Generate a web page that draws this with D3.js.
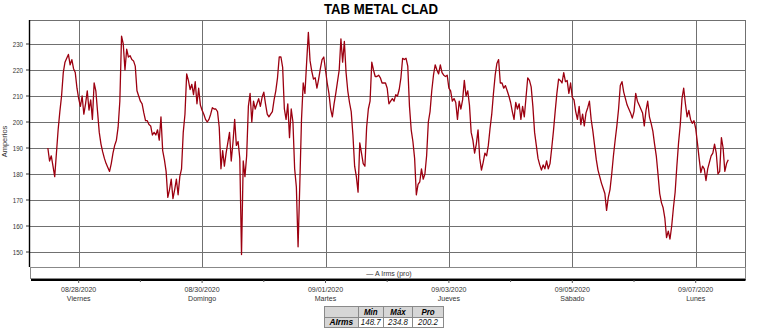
<!DOCTYPE html>
<html><head><meta charset="utf-8">
<script src="https://cdn.jsdelivr.net/npm/d3@7"></script>
<style>body{margin:0;background:#fff}svg{display:block}</style>
</head><body>
<script>
const chartTitle = "TAB METAL CLAD";
const yAxisTitle = "Amperios";
const legendLabel = "— A Irms (pro)";
const yTicks = [150,160,170,180,190,200,210,220,230];
const dayTicks = ["2020-08-28","2020-08-29","2020-08-30","2020-08-31","2020-09-01","2020-09-02","2020-09-03","2020-09-04","2020-09-05","2020-09-06","2020-09-07"];
const labeledDays = ["2020-08-28","2020-08-30","2020-09-01","2020-09-03","2020-09-05","2020-09-07"];
const dateLabels = ["08/28/2020","08/30/2020","09/01/2020","09/03/2020","09/05/2020","09/07/2020"];
const dayNames = ["Viernes","Domingo","Martes","Jueves","Sábado","Lunes"];
const seriesStart = "2020-08-27T12:00:00Z";
const stepMinutes = 40;
const amps = [
190,185,187,183,179,188,197,204,210,219,
223,224.5,226,222,224,220.5,219,213,209,206,
210,203,207,212,204.6,208.5,201,215,212,204,
196,191.5,188.5,186,184,182.5,181,184,188,191,
193,198,208,233,230,220,228,225,225.5,224,
223.5,221.5,212,210,208,207,203.5,200.5,200.5,199,
198.5,195,196,195,197,193,202,189,185.5,181,
171,174,178,170.5,174,178,172,179,182,196,
203,218.5,216,212.5,214.5,210.5,215.5,207,213,206.5,
204.5,203,201,200,201,203,205.5,205,205,204,
198,182,189,183,188,192,196,185,192,201,
191,192.5,186,149,185,179,187,206,211,200,
208,205,207,209,206,209.5,211.5,207,203,202,
203,204,208.5,212,217,225,225,221,205,201,
207,194,205,200,182,175,152,176,201,215,
211,223,234.5,223.5,219.5,216.5,217,213,216.5,220.5,
224,225,220,215,211,205,202,207,211,215.5,
220,232,223,231,219,212,207.5,204,195,183,
179,173,192,188,184,183,198,205,208,223,
220,217.5,217.5,218,217,215,215,215,213,207,
208,209,208,210.5,210,212.5,217,224.5,224,224.5,
221.5,206,197,192.5,186,172,176,177,182,178,
180,187,200,204,212,218,222,220,218.5,222,
219,218,217.5,218,213,212,208,209,207.5,201,
208,205,208.5,216,210,212,206.5,196,193,188,
191.5,197,186,181.5,184.5,188,187,191,197.5,203,
211,218,222.5,224,215,215,213,214,212,210,
207.5,204,201,207.5,205,207,201,206,202,209.5,
217,216,213.5,206,196,191,186,183.5,181.5,183.5,
182,185,182,184,190,196.5,204,211,216.5,216,
215,219,215.5,216,211,215,209.5,208.5,204,201,
206,199,203,198.5,203.5,205.5,208,201,196.5,191,
185.5,181.5,179,176.5,174.5,172.5,166,171,174,180,
187,193,198.5,205,214,215.5,211.5,209,206.5,205,
203.5,201.5,204,211,208,206.5,205,203.5,198.5,204.5,
208,202,199.5,196.5,191.5,187,180,172.5,169,167,
163,155.5,158,155,160,167,173,183,192,199,
209,213,207,202,204.5,201,199.5,200.5,197.5,192,
186,180.5,183,182,177.5,182,184.5,187,188,191.5,
188,180,181,194,190,181,184,185.5
];
const statHeaders = ["Min","Máx","Pro"];
const statRowLabel = "AIrms";
const statValues = ["148.7","234.8","200.2"];

(function () {
const W = 762, H = 329;
const svg = d3.select("body").append("svg").attr("width", W).attr("height", H);
const FONT = "'Liberation Sans', Arial, sans-serif";
const SX = 0.88;
function txt(px, py, s, o = {}) {
  return svg.append("text")
    .attr("transform", `translate(${px},${py}) scale(${SX},1)${o.rot ? " rotate(" + o.rot + ")" : ""}`)
    .attr("text-anchor", o.anchor || "middle")
    .attr("font-family", FONT)
    .attr("font-size", o.size || 8)
    .attr("font-weight", o.weight || "normal")
    .attr("font-style", o.style || "normal")
    .attr("fill", o.fill || "#222")
    .text(s);
}

const parse = d3.utcParse("%Y-%m-%d");
const pLeft = 29.5, pRight = 745.5, pTop = 20, plotBottom = 267, axisY = 280;
const x = d3.scaleUtc().domain([parse("2020-08-28"), parse("2020-09-07")]).range([78.7, 695.7]);
const y = d3.scaleLinear().domain([150, 230]).range([252, 44]);

const t0 = new Date(seriesStart).getTime();
const data = amps.map((v, i) => ({ t: new Date(t0 + i * stepMinutes * 60000), v }));

// title
txt(381, 14, chartTitle, { size: 15, weight: "bold", fill: "#000" });

// grid
const grid = svg.append("g").attr("stroke", "#707070").attr("stroke-width", 1).attr("shape-rendering", "crispEdges");
yTicks.forEach(v => grid.append("line").attr("x1", pLeft).attr("x2", pRight).attr("y1", Math.round(y(v)) + 0.5).attr("y2", Math.round(y(v)) + 0.5));
labeledDays.forEach(d => { const xx = Math.round(x(parse(d))) + 0.5; grid.append("line").attr("x1", xx).attr("x2", xx).attr("y1", pTop).attr("y2", plotBottom); });
grid.append("line").attr("x1", pLeft).attr("x2", pRight).attr("y1", pTop + 0.5).attr("y2", pTop + 0.5);
grid.append("line").attr("x1", pRight).attr("x2", pRight).attr("y1", pTop).attr("y2", axisY);

// series
svg.append("clipPath").attr("id", "clip").append("rect").attr("x", pLeft).attr("y", pTop).attr("width", pRight - pLeft).attr("height", plotBottom - pTop);
svg.append("path").datum(data)
  .attr("clip-path", "url(#clip)")
  .attr("fill", "none").attr("stroke", "#9c0010").attr("stroke-width", 1.3).attr("stroke-linejoin", "round")
  .attr("d", d3.line().x(d => x(d.t)).y(d => y(d.v)));

// left axis
svg.append("line").attr("x1", 29.5).attr("x2", 29.5).attr("y1", pTop).attr("y2", plotBottom).attr("stroke", "#000").attr("stroke-width", 1.4);
yTicks.forEach(v => {
  svg.append("line").attr("x1", 26).attr("x2", 29).attr("y1", y(v)).attr("y2", y(v)).attr("stroke", "#333");
  txt(23, y(v) + 2.5, String(v), { size: 7, anchor: "end", fill: "#333" });
});
txt(7, 141.5, yAxisTitle, { size: 7.5, rot: -90, fill: "#333" });

// legend band
svg.append("rect").attr("x", 30.5).attr("y", plotBottom + 0.5).attr("width", pRight - 30.5).attr("height", 11)
  .attr("fill", "#fff").attr("stroke", "#888").attr("stroke-width", 1).attr("shape-rendering", "crispEdges");
txt(389, 276, legendLabel, { size: 8, fill: "#333" });

// x axis
svg.append("line").attr("x1", 31).attr("x2", pRight).attr("y1", axisY).attr("y2", axisY).attr("stroke", "#000").attr("stroke-width", 1.8);
dayTicks.forEach(d => {
  const xx = x(parse(d));
  const major = labeledDays.includes(d);
  svg.append("line").attr("x1", xx).attr("x2", xx).attr("y1", axisY).attr("y2", axisY + (major ? 3 : 2)).attr("stroke", "#555");
});
labeledDays.forEach((d, i) => {
  const xx = x(parse(d));
  txt(xx, 291.5, dateLabels[i], { size: 8, fill: "#333" });
  txt(xx, 300.5, dayNames[i], { size: 8, fill: "#333" });
});

// stats table
const cols = [324, 357.5, 383, 412, 443];
const rows = [306, 316.5, 327];
const tg = svg.append("g").attr("shape-rendering", "crispEdges");
for (let c = 0; c < 4; c++) {
  for (let r = 0; r < 2; r++) {
    const gray = r === 0 || c === 0;
    tg.append("rect").attr("x", cols[c] + 0.5).attr("y", rows[r] + 0.5)
      .attr("width", cols[c + 1] - cols[c]).attr("height", rows[r + 1] - rows[r])
      .attr("fill", gray ? "#d6d6d6" : "#fff").attr("stroke", "#8a8a8a");
  }
}
statHeaders.forEach((h, i) => txt((cols[i + 1] + cols[i + 2]) / 2 + 0.5, 314.5, h, { size: 9, weight: "bold", style: "italic", fill: "#000" }));
txt((cols[0] + cols[1]) / 2 + 0.5, 325, statRowLabel, { size: 9.5, weight: "bold", style: "italic", fill: "#000" });
statValues.forEach((v, i) => txt((cols[i + 1] + cols[i + 2]) / 2 + 0.5, 325, v, { size: 9, style: "italic", fill: "#111" }));
})();
</script>
</body></html>
